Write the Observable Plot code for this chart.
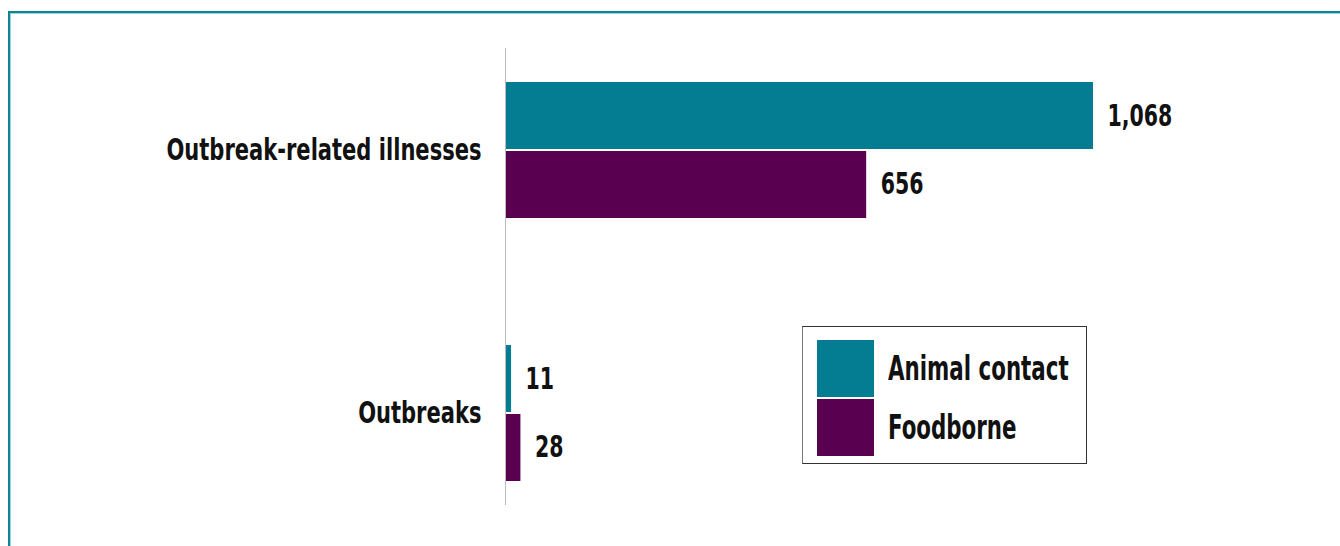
<!DOCTYPE html>
<html>
<head>
<meta charset="utf-8">
<script src="https://cdn.jsdelivr.net/npm/d3@7"></script>
<script src="https://cdn.jsdelivr.net/npm/@observablehq/plot@0.6"></script>
<style>
  html, body { margin: 0; padding: 0; background: #fff; overflow: hidden; width: 1340px; height: 546px; }
  #frame { position: absolute; left: 8px; top: 11px; width: 1400px; height: 600px;
           border-left: 2px solid #0e8496; border-top: 2px solid #0e8496;
           box-shadow: inset 1px 1px 0 #9fd3dc; }
  #chart { position: absolute; left: 0; top: 0; }
  #legend { position: absolute; left: 802px; top: 326px; width: 283px; height: 136px;
            border: 1px solid #333; border-left-color: #777; background: #fff; }
  .item { position: absolute; left: 14px; height: 57px; display: flex; align-items: center; white-space: nowrap; }
  .sw { width: 57px; height: 57px; flex: none; }
  .lab { margin-left: 14px; font-family: "DejaVu Sans Condensed", "DejaVu Sans", sans-serif;
         font-weight: bold; font-size: 33px; color: #111; display: inline-block;
         transform: scaleX(0.72); transform-origin: 0 50%; }
</style>
</head>
<body>
<div id="frame"></div>
<div id="chart"></div>
<div id="legend"></div>
<script>
const categories = ["Outbreak-related illnesses", "Outbreaks"];
const series = ["Animal contact", "Foodborne"];
const animalContact = [1068, 11];
const foodborne = [656, 28];
const colors = ["#047C91", "#5A0050"];

const rows = categories.flatMap((c, i) => [
  {category: c, series: series[0], value: animalContact[i]},
  {category: c, series: series[1], value: foodborne[i]}
]);
const A = rows.filter(d => d.series === series[0]);
const F = rows.filter(d => d.series === series[1]);
const fmt = d3.format(",");
const font = '"DejaVu Sans Condensed", "DejaVu Sans", sans-serif';

const chart = Plot.plot({
  width: 1340,
  height: 546,
  marginLeft: 505,
  marginRight: 247,
  marginTop: 48,
  marginBottom: 41,
  style: {fontFamily: font, background: "transparent"},
  x: {domain: [0, 1068], axis: null},
  y: {domain: categories, paddingInner: 0.483, paddingOuter: 0, insetTop: 34, insetBottom: 24, label: null},
  color: {domain: series, range: colors},
  marks: [
    Plot.barX(A, {x: "value", y: "category", fill: "series", insetBottom: 69}),
    Plot.barX(F, {x: "value", y: "category", fill: "series", insetTop: 69, insetBottom: 0}),
    Plot.ruleX([0], {stroke: "#bbb", strokeWidth: 1}),
    Plot.text(A, {x: "value", y: "category", text: d => fmt(d.value), dx: 14, dy: -34, textAnchor: "start",
      fontSize: 30, fontWeight: "bold", fill: "#111"}),
    Plot.text(F, {x: "value", y: "category", text: d => fmt(d.value), dx: 14, dy: 34, textAnchor: "start",
      fontSize: 30, fontWeight: "bold", fill: "#111"}),
    Plot.axisY({tickSize: 0, tickPadding: 24, fontSize: 30, fontWeight: "bold", fill: "#111", label: null})
  ]
});
// condense glyphs horizontally around each text's anchor to mimic a condensed bold face
chart.querySelectorAll("text").forEach(t => {
  const isAxis = !!t.closest('[aria-label="y-axis tick label"]');
  const k = isAxis ? 0.78 : 0.76;
  const x = +(t.getAttribute("x") || 0);
  const tr = t.getAttribute("transform") || "";
  t.setAttribute("transform", `${tr} translate(${x},0) scale(${k},1) translate(${-x},0)`);
});
document.getElementById("chart").append(chart);

const legend = document.getElementById("legend");
series.forEach((s, i) => {
  const item = document.createElement("div");
  item.className = "item";
  item.style.top = (13 + i * 59) + "px";
  const sw = document.createElement("div");
  sw.className = "sw";
  sw.style.background = colors[i];
  const lab = document.createElement("span");
  lab.className = "lab";
  lab.textContent = s;
  item.append(sw, lab);
  legend.append(item);
});
</script>
</body>
</html>
